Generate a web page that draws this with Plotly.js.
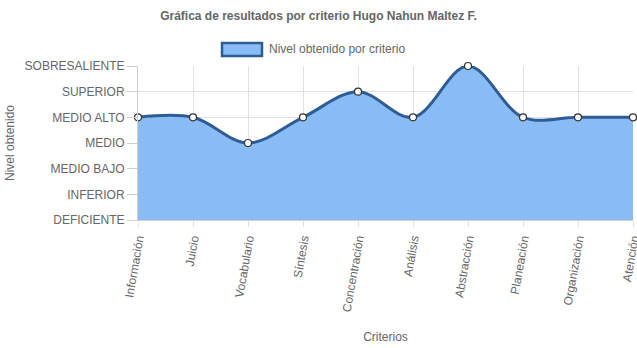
<!DOCTYPE html>
<html><head><meta charset="utf-8">
<script src="https://cdn.plot.ly/plotly-3.0.1.min.js"></script>
<style>html,body{margin:0;padding:0;background:#fff}#c{width:637px;height:348px}</style>
</head><body><div id="c"></div>
<script>
const categories = ["Información","Juicio","Vocabulario","Síntesis","Concentración","Análisis","Abstracción","Planeación","Organización","Atención"];
const values = [4,4,3,4,5,4,6,4,4,4];
const levelLabels = ["DEFICIENTE","INFERIOR","MEDIO BAJO","MEDIO","MEDIO ALTO","SUPERIOR","SOBRESALIENTE"];
const levelVals = [0,1,2,3,4,5,6];
const seriesName = 'Nivel obtenido por criterio';

const trace = {
  x: categories, y: values, type: 'scatter', mode: 'lines+markers',
  name: seriesName, showlegend: false,
  fill: 'tozeroy', fillcolor: 'rgba(137,187,245,1)',
  line: {shape: 'spline', smoothing: 1, color: '#2e5c94', width: 3},
  marker: {size: 7, color: '#ffffff', line: {color: '#333', width: 1.2}},
  cliponaxis: false, hoverinfo: 'x+y'
};
const layout = {
  width: 637, height: 348,
  margin: {l: 138, r: 4, t: 66, b: 128},
  paper_bgcolor: '#fff', plot_bgcolor: '#fff',
  font: {family: 'Liberation Sans, Arial, sans-serif', size: 12, color: '#666'},
  title: {text: '<b>Gráfica de resultados por criterio Hugo Nahun Maltez F.</b>', x: 0.5, xanchor: 'center', y: 0.955, yanchor: 'middle', font: {size: 12, color: '#666'}},
  showlegend: false,
  shapes: [{
    type: 'rect', xref: 'paper', yref: 'paper',
    x0: (222-138)/495, x1: (262-138)/495, y0: (220-56)/154, y1: (220-43)/154,
    fillcolor: 'rgba(137,187,245,1)', line: {color: '#2e5c94', width: 2.5}
  }],
  annotations: [{
    text: seriesName, xref: 'paper', yref: 'paper', x: (267-138)/495, xanchor: 'left',
    y: (220-49)/154, yanchor: 'middle', showarrow: false, font: {size: 12, color: '#666'}
  }],
  xaxis: {
    type: 'category', range: [0, 9], tickangle: -80,
    showgrid: true, gridcolor: '#e1e1e1', zeroline: false,
    ticks: 'outside', ticklen: 6, tickcolor: '#e1e1e1',
    showline: true, linecolor: '#d0d0d0',
    tickfont: {size: 12, color: '#666'},
    title: {text: 'Criterios', standoff: 20, font: {size: 12, color: '#666'}}
  },
  yaxis: {
    range: [0, 6], tickvals: levelVals, ticktext: levelLabels,
    showgrid: true, gridcolor: '#e1e1e1', zeroline: false,
    ticks: 'outside', ticklen: 10, tickcolor: '#cfcfcf',
    showline: true, linecolor: '#cfcfcf',
    tickfont: {size: 12, color: '#666'},
    title: {text: 'Nivel obtenido', standoff: 7, font: {size: 12, color: '#666'}}
  }
};
Plotly.newPlot('c', [trace], layout, {displayModeBar: false, staticPlot: true});
</script></body></html>
